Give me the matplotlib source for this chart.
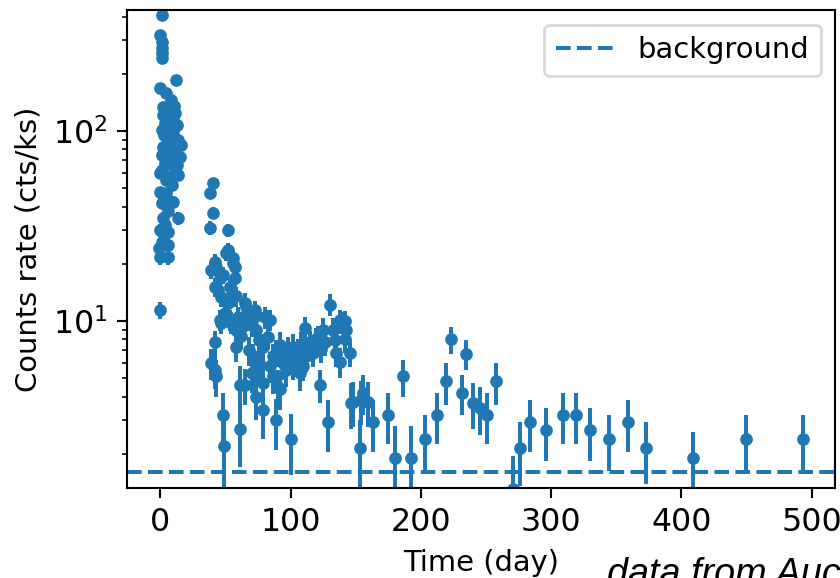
"""Light curve: X-ray count rate vs time with background level."""
import matplotlib

matplotlib.use("Agg")
import matplotlib.pyplot as plt  # noqa: E402

# early flare (t < 20 d)
flare_time = [
    0.8, 0.0, 1.5, 1.0, 1.0, 1.0, 11.7, 0.0, 4.6, 8.4,
    2.0, 10.0, 7.1, 11.0, 2.0, 6.0, 9.7, 3.3, 12.3, 6.5,
    0.8, 9.7, 3.0, 4.6, 13.5, 8.0, 15.5, 2.0, 5.0, 9.7,
    0.8, 7.1, 14.8, 10.5, 3.3, 5.8, 12.3, 1.5, 11.0, 0.0,
    13.5, 7.1, 4.0, 8.5, -0.5, 4.6, 2.5, 9.7, 0.8, 6.0,
    13.5, 2.0, 3.5, 0.0, 5.8, 0.8, 5.8, -1.0, 0.0, 5.8,
    0.0,
]
flare_rate = [
    408, 320, 294, 273, 257, 242, 185, 168, 158, 146,
    134, 135, 129, 124, 121, 118, 114, 110, 108, 105,
    101, 99, 95, 93, 90, 88, 84, 82, 80, 79,
    75, 73, 73, 70, 68, 68, 66, 62, 62, 60,
    58.7, 57, 55, 52, 47.8, 47.2, 45, 42.3, 41.8, 38,
    34.8, 34.8, 32, 30, 29.4, 26.1, 25.1, 24.2, 21.7, 21.7,
    11.4,
]
flare_err = [
    20, 16, 15, 14, 13, 12, 9, 8, 8, 7,
    7, 7, 6, 6, 6, 6, 6, 5, 5, 5,
    5, 5, 5, 5, 5, 4, 4, 4, 4, 4,
    4, 4, 4, 4, 4, 4, 4, 4, 4, 3.5,
    3.5, 3.5, 3.5, 3.5, 3, 3, 3, 3, 3, 3,
    2.8, 2.8, 2.6, 2.5, 2.5, 2.3, 2.3, 2.2, 2.0, 2.0,
    1.2,
]

# decline and late-time monitoring
tail_time = [
    37.8, 37.8, 39.0, 39.0, 40.4, 40.4, 41.7, 41.7, 41.7, 41.7,
    42.5, 43.0, 44.0, 45.5, 45.6, 46.8, 46.8, 48.0, 48.0, 48.5,
    49.3, 50.6, 51.9, 51.9, 51.9, 53.0, 53.0, 54.5, 55.7, 56.0,
    57.0, 57.0, 58.0, 58.3, 58.3, 59.5, 60.9, 60.9, 60.9, 62.0,
    63.4, 64.7, 64.7, 65.5, 66.0, 67.2, 68.0, 70.0, 70.0, 71.0,
    72.4, 73.6, 73.7, 73.7, 76.0, 76.0, 78.7, 78.7, 78.7, 80.0,
    82.6, 82.6, 83.9, 84.0, 86.4, 86.4, 88.5, 89.0, 90.3, 92.0,
    92.0, 94.0, 96.0, 96.7, 98.0, 100.5, 101.8, 101.8, 104.4, 105.6,
    106.9, 108.2, 109.4, 110.7, 112.0, 114.6, 117.1, 119.7, 121.0, 122.3,
    123.6, 124.8, 126.1, 128.6, 130.0, 132.5, 133.8, 135.1, 137.6, 137.6,
    138.9, 141.4, 141.4, 142.7, 145.3, 146.6, 147.8, 153.0, 154.0, 155.5,
    159.3, 163.2, 174.7, 179.8, 186.2, 192.6, 202.8, 212.3, 219.5, 223.3,
    231.8, 234.8, 240.0, 245.0, 250.7, 257.9, 270.6, 275.8, 283.5, 296.3,
    309.0, 318.7, 330.0, 344.3, 358.9, 372.5, 408.8, 449.7, 493.2,
]
tail_rate = [
    47.2, 30.9, 18.6, 6.0, 53.3, 37.0, 20.4, 15.1, 7.7, 5.5,
    5.1, 19.3, 14.5, 16.9, 10.1, 13.4, 9.8, 17.5, 3.2, 2.2,
    11.0, 22.7, 30.1, 23.6, 12.5, 15.0, 10.1, 9.8, 21.4, 20.2,
    19.3, 16.9, 13.5, 9.0, 7.3, 10.5, 9.4, 4.6, 2.7, 8.3,
    9.4, 12.5, 4.6, 10.6, 11.8, 10.1, 7.0, 5.3, 9.5, 6.5,
    11.4, 10.6, 9.0, 4.0, 7.9, 6.0, 7.3, 4.7, 3.4, 10.5,
    10.1, 8.2, 10.1, 5.8, 6.5, 5.1, 3.0, 6.8, 4.5, 4.4,
    7.5, 6.0, 5.5, 6.5, 7.1, 2.4, 6.0, 7.3, 6.5, 6.9,
    5.3, 7.5, 5.8, 9.2, 6.5, 7.7, 6.8, 8.0, 8.2, 4.6,
    7.1, 9.0, 7.7, 2.95, 12.2, 9.0, 7.9, 6.8, 10.1, 6.1,
    9.8, 8.0, 10.0, 9.0, 6.8, 3.7, 3.75, 2.15, 3.84, 4.2,
    3.75, 2.95, 3.2, 1.9, 5.1, 1.9, 2.4, 3.2, 4.8, 8.0,
    4.2, 6.7, 3.7, 3.5, 3.2, 4.8, 1.3, 2.15, 2.95, 2.67,
    3.2, 3.2, 2.67, 2.4, 2.95, 2.15, 1.9, 2.4, 2.4,
]
tail_err = [
    3.0, 2.5, 1.9, 1.1, 3.2, 2.7, 2.0, 1.7, 1.2, 1.1,
    1.1, 1.9, 1.6, 1.8, 1.3, 1.6, 1.3, 1.8, 1.0, 1.1,
    1.4, 2.1, 2.4, 2.1, 1.5, 1.6, 1.3, 1.3, 2.0, 2.0,
    1.9, 1.8, 1.6, 1.3, 1.2, 1.4, 1.3, 1.2, 1.0, 1.2,
    1.3, 1.5, 1.0, 1.4, 1.4, 1.3, 1.2, 1.1, 1.3, 1.1,
    1.4, 1.4, 1.3, 1.0, 1.2, 1.1, 1.2, 1.0, 1.0, 1.4,
    1.3, 1.2, 1.3, 1.1, 1.1, 1.0, 0.9, 1.1, 1.0, 1.0,
    1.2, 1.1, 1.0, 1.1, 1.1, 0.85, 1.1, 1.2, 1.1, 1.1,
    1.0, 1.2, 1.0, 1.3, 1.1, 1.2, 1.1, 1.2, 1.2, 0.9,
    1.1, 1.3, 1.2, 0.9, 1.6, 1.3, 1.2, 1.1, 1.3, 1.1,
    1.3, 1.2, 1.3, 1.3, 1.1, 1.0, 1.0, 0.85, 1.0, 1.0,
    1.0, 0.9, 0.95, 0.9, 1.1, 0.9, 0.8, 0.95, 1.2, 1.3,
    1.0, 1.2, 1.0, 1.0, 0.95, 1.2, 0.65, 0.8, 0.9, 0.83,
    0.95, 0.95, 0.83, 0.78, 0.9, 0.77, 0.7, 0.78, 0.78,
]

background_rate = 1.6

DPI = 190
fig = plt.figure(figsize=(840 / DPI, 578 / DPI), dpi=DPI)
ax = fig.add_axes([0.1512, 0.1557, 0.8429, 0.8270])

ax.errorbar(flare_time + tail_time, flare_rate + tail_rate,
            yerr=flare_err + tail_err, fmt="o", ms=3.8, color="C0")
ax.axhline(background_rate, ls="--", color="C0", label="background")

ax.set_yscale("log")
ax.set_ylim(1.32, 433)
ax.tick_params(axis="both", which="major", labelsize=12, length=3.8)
ax.set_xlabel("Time (day)", fontsize=11)
ax.set_ylabel("Counts rate (cts/ks)", fontsize=11)
ax.legend(loc="upper right", fontsize=11)

fig.text(607 / 840, -0.012, "data from Auchettl et al. 2017",
         family="Liberation Sans", style="italic", fontsize=14.3,
         va="baseline", ha="left")

fig.savefig("out.png", dpi=DPI)
plt.close(fig)
